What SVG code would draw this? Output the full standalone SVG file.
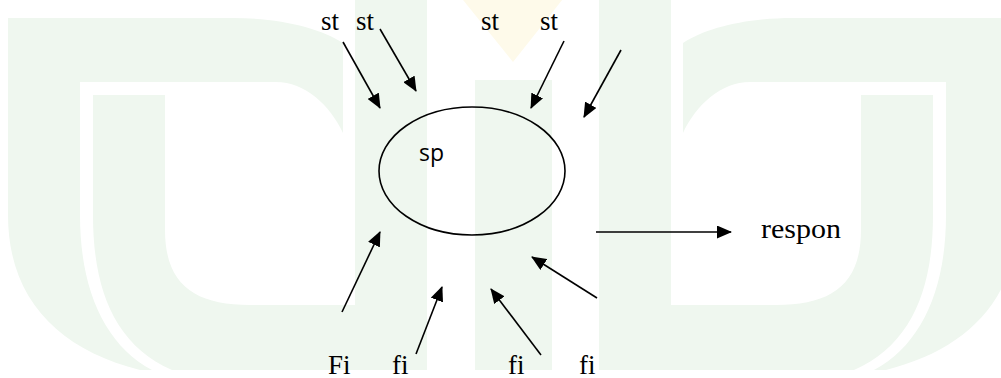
<svg xmlns="http://www.w3.org/2000/svg" width="1001" height="378" viewBox="0 0 1001 378">
  <style>
    .wm { fill: #eff7ef; }
    .lbl { font-family: "Liberation Serif", "Times New Roman", serif; font-size: 27px; fill: #000; }
    .sans { font-family: "Open Sans", "Liberation Sans", sans-serif; font-size: 23px; fill: #000; }
    .conn line { stroke: #000; stroke-width: 1.6; marker-end: url(#ah); }
  </style>
  <defs>
    <marker id="ah" markerWidth="15" markerHeight="13" refX="14" refY="6.5" orient="auto" markerUnits="userSpaceOnUse">
      <path d="M0,0 L15,6.5 L0,13 z" fill="#000"/>
    </marker>
    <g id="half">
      <path class="wm" d="M8,18 H233 C280,18 320,28 343,43 V133 C330,105 305,82 276,82 H80 V215 C80,290 105,345 152,370 H140 C60,350 8,300 8,215 Z"/>
      <path class="wm" d="M93,95 H165 V230 C165,285 195,305 250,305 H355 V0 H427 V370 H172 C115,345 93,290 93,215 Z"/>
    </g>
  </defs>
  <rect width="1001" height="378" fill="#fff"/>
  <g id="watermark">
    <use href="#half"/>
    <use href="#half" transform="translate(1026,0) scale(-1,1)"/>
    <rect class="wm" x="475" y="80" width="77" height="290"/>
    <path d="M455,-10 L570,-10 L513,62 Z" fill="#fefaea"/>
  </g>
  <g id="node-sp">
    <ellipse cx="472" cy="171" rx="93" ry="64" fill="none" stroke="#000" stroke-width="1.6"/>
    <text class="sans" x="419" y="161">sp</text>
  </g>
  <g id="labels-st">
    <text class="lbl" x="321" y="30">st</text>
    <text class="lbl" x="356" y="30">st</text>
    <text class="lbl" x="481" y="30">st</text>
    <text class="lbl" x="540" y="30">st</text>
  </g>
  <g id="labels-fi">
    <text class="lbl" x="328" y="374">Fi</text>
    <text class="lbl" x="392" y="374">fi</text>
    <text class="lbl" x="508" y="374">fi</text>
    <text class="lbl" x="579" y="374">fi</text>
  </g>
  <g id="node-respon">
    <text class="lbl" x="761" y="238" textLength="80" lengthAdjust="spacingAndGlyphs">respon</text>
  </g>
  <g id="connectors" class="conn">
    <line x1="343" y1="42" x2="380" y2="108"/>
    <line x1="380" y1="29" x2="416" y2="91"/>
    <line x1="564" y1="41" x2="531" y2="108"/>
    <line x1="621" y1="50" x2="584" y2="117"/>
    <line x1="342" y1="312" x2="380" y2="232"/>
    <line x1="416" y1="354" x2="442" y2="287"/>
    <line x1="541" y1="355" x2="491" y2="289"/>
    <line x1="597" y1="298" x2="532" y2="257"/>
    <line x1="596" y1="232" x2="731" y2="232"/>
  </g>
</svg>
